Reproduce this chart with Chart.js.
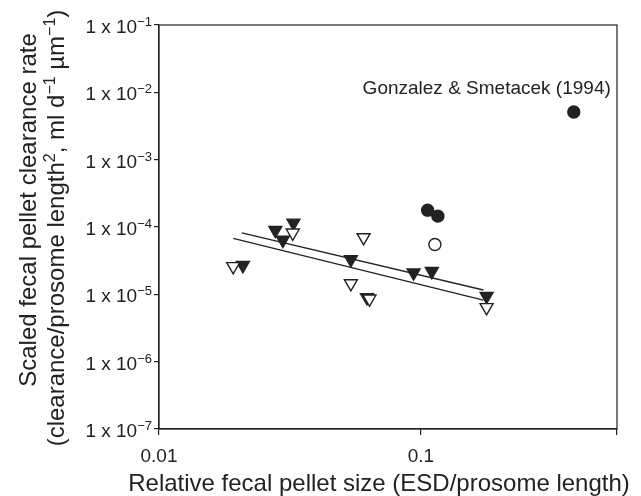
<!DOCTYPE html>
<html>
<head>
<meta charset="utf-8">
<script src="https://cdn.jsdelivr.net/npm/chart.js@4.4.0/dist/chart.umd.min.js"></script>
<style>
  html, body { margin: 0; padding: 0; background: #fff; }
</style>
</head>
<body>
<canvas id="chart" width="641" height="496"></canvas>
<script>
// axis setup
const yPowers = [-1, -2, -3, -4, -5, -6, -7];
const xTickValues = [0.01, 0.1];
const xMin = 0.01, xMax = 0.56;

// data
const filledTriX = [0.0209, 0.0278, 0.0297, 0.0326, 0.054, 0.0622, 0.0937, 0.110, 0.178];
const filledTriY = [2.7e-5, 9.0e-5, 6.4e-5, 1.15e-4, 3.3e-5, 9.0e-6, 2.1e-5, 2.2e-5, 9.4e-6];
const openTriX = [0.0192, 0.0324, 0.0604, 0.054, 0.0636, 0.178];
const openTriY = [2.6e-5, 8.2e-5, 7.0e-5, 1.45e-5, 8.6e-6, 6.4e-6];
const filledCircX = [0.106, 0.116, 0.383];
const filledCircY = [1.78e-4, 1.45e-4, 5.1e-3];
const openCircX = [0.113];
const openCircY = [5.5e-5];
const fitUpperX = [0.0207, 0.173];
const fitUpperY = [8.2e-5, 1.16e-5];
const fitLowerX = [0.0192, 0.173];
const fitLowerY = [6.8e-5, 8.2e-6];

const FONT = '"Liberation Sans", Arial, sans-serif';
const INK = "#222";

const pts = (xs, ys) => xs.map((x, i) => ({ x: x, y: ys[i] }));

// text with superscripts: parts = [[text, isSup], ...]
function drawRich(ctx, parts, x, y, align, size) {
  const supSize = Math.round(size * 0.68);
  let w = 0;
  parts.forEach((p) => {
    ctx.font = (p[1] ? supSize : size) + "px " + FONT;
    w += ctx.measureText(p[0]).width;
  });
  let cx = align === "right" ? x - w : align === "center" ? x - w / 2 : x;
  parts.forEach((p) => {
    ctx.font = (p[1] ? supSize : size) + "px " + FONT;
    ctx.fillText(p[0], cx, p[1] ? y - size * 0.36 : y);
    cx += ctx.measureText(p[0]).width;
  });
}

const textPlugin = {
  id: "textPlugin",
  afterDraw(chart) {
    const ctx = chart.ctx;
    const a = chart.chartArea;
    const ys = chart.scales.y;
    const xs = chart.scales.x;
    ctx.save();
    ctx.fillStyle = INK;
    ctx.textAlign = "left";
    ctx.textBaseline = "alphabetic";

    // frame top / right
    ctx.strokeStyle = INK;
    ctx.lineWidth = 1.2;
    ctx.strokeRect(a.left, a.top, a.right - a.left, a.bottom - a.top);

    // y tick labels
    yPowers.forEach((k) => {
      const py = ys.getPixelForValue(Math.pow(10, k));
      drawRich(ctx, [["1 x 10", false], ["\u2212" + Math.abs(k), true]], a.left - 7, py + 8, "right", 19);
    });

    // y title, two lines
    const cy = (a.top + a.bottom) / 2;
    ctx.save();
    ctx.translate(36, cy - 17);
    ctx.rotate(-Math.PI / 2);
    drawRich(ctx, [["Scaled fecal pellet clearance rate", false]], 0, 0, "center", 24);
    ctx.restore();
    ctx.save();
    ctx.translate(64, cy + 1);
    ctx.rotate(-Math.PI / 2);
    drawRich(ctx, [
      ["(clearance/prosome length", false], ["2", true],
      [", ml d", false], ["\u22121", true],
      [" \u00b5m", false], ["\u22121", true], [")", false]
    ], 0, 0, "center", 24);
    ctx.restore();

    // x title
    drawRich(ctx, [["Relative fecal pellet size (ESD/prosome length)", false]],
      (a.left + a.right) / 2 - 9, 491, "center", 24);

    // annotation next to the far point
    const gx = xs.getPixelForValue(filledCircX[2]);
    const gy = ys.getPixelForValue(filledCircY[2]);
    drawRich(ctx, [["Gonzalez & Smetacek (1994)", false]], gx + 37, gy - 18, "right", 19);
    ctx.restore();
  },
};

new Chart(document.getElementById("chart"), {
  type: "scatter",
  data: {
    datasets: [
      {
        label: "open triangles",
        data: pts(openTriX, openTriY),
        pointStyle: "triangle",
        rotation: 180,
        pointRadius: 7.5,
        backgroundColor: "#fff",
        borderColor: INK,
        borderWidth: 1.4,
      },
      {
        label: "filled triangles",
        data: pts(filledTriX, filledTriY),
        pointStyle: "triangle",
        rotation: 180,
        pointRadius: 7.5,
        backgroundColor: INK,
        borderColor: INK,
        borderWidth: 1.4,
      },
      {
        label: "open circle",
        data: pts(openCircX, openCircY),
        pointRadius: 6,
        backgroundColor: "#fff",
        borderColor: INK,
        borderWidth: 1.4,
      },
      {
        label: "filled circles",
        data: pts(filledCircX, filledCircY),
        pointRadius: 6,
        backgroundColor: INK,
        borderColor: INK,
        borderWidth: 1.4,
      },
      {
        label: "fit upper",
        data: pts(fitUpperX, fitUpperY),
        showLine: true,
        pointRadius: 0,
        borderColor: INK,
        borderWidth: 1.3,
      },
      {
        label: "fit lower",
        data: pts(fitLowerX, fitLowerY),
        showLine: true,
        pointRadius: 0,
        borderColor: INK,
        borderWidth: 1.3,
      },
    ],
  },
  options: {
    responsive: false,
    animation: false,
    layout: { padding: { top: 25, right: 24, left: 0, bottom: 0 } },
    plugins: { legend: { display: false }, tooltip: { enabled: false } },
    scales: {
      x: {
        type: "logarithmic",
        min: xMin,
        max: xMax,
        afterBuildTicks: (s) => {
          s.ticks = xTickValues.concat([xMax]).map((v) => ({ value: v }));
        },
        afterFit: (s) => { s.height = 67; },
        ticks: {
          autoSkip: false,
          maxRotation: 0,
          padding: 10,
          color: INK,
          font: { family: FONT, size: 19 },
          callback: (v) => (xTickValues.includes(v) ? String(v) : ""),
        },
        grid: { drawOnChartArea: false, tickLength: 6, color: INK, lineWidth: 1.2 },
        border: { display: true, color: INK, width: 1.2 },
      },
      y: {
        type: "logarithmic",
        min: Math.pow(10, -7),
        max: Math.pow(10, -1),
        afterBuildTicks: (s) => {
          s.ticks = yPowers.map((k) => ({ value: Math.pow(10, k) }));
        },
        afterFit: (s) => { s.width = 159; },
        ticks: { display: false },
        grid: { drawOnChartArea: false, tickLength: 5, color: INK, lineWidth: 1.2 },
        border: { display: true, color: INK, width: 1.2 },
      },
    },
  },
  plugins: [textPlugin],
});
</script>
</body>
</html>
